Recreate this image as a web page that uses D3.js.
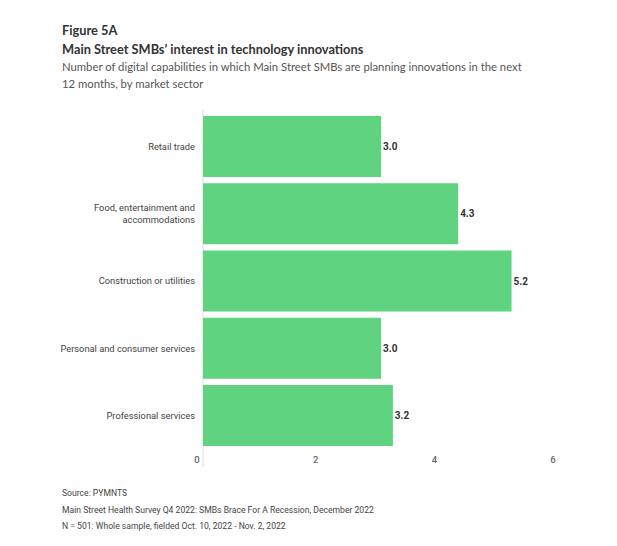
<!DOCTYPE html>
<html lang="en">
<head>
<meta charset="UTF-8">
<title>Figure 5A</title>
<script src="https://d3js.org/d3.v7.min.js"></script>
<style>
  body { margin: 0; background: #fff; }
  .title { font-family: Lato, sans-serif; font-weight: 700; fill: #333; }
  .sub { font-family: Lato, sans-serif; fill: #555; }
  .lbl { font-family: Roboto, sans-serif; }
</style>
</head>
<body>
<div class="chart"></div>
<script>
const sectors = ["Retail trade", "Food, entertainment and accommodations", "Construction or utilities",
                 "Personal and consumer services", "Professional services"];
const sectorLines = [["Retail trade"], ["Food, entertainment and", "accommodations"], ["Construction or utilities"],
                     ["Personal and consumer services"], ["Professional services"]];
const values = [3.0, 4.3, 5.2, 3.0, 3.2];
const xTicks = [0, 2, 4, 6];

const W = 617, H = 546;
const svg = d3.select(".chart").append("svg")
  .attr("width", W).attr("height", H);

// header
svg.append("text").attr("class", "title").attr("x", 62).attr("y", 35)
  .attr("font-size", "12.8px").text("Figure 5A");
svg.append("text").attr("class", "title").attr("x", 62).attr("y", 54)
  .attr("font-size", "12.8px").text("Main Street SMBs\u2019 interest in technology innovations");
svg.append("text").attr("class", "sub").attr("x", 62).attr("y", 71)
  .attr("font-size", "11.3px").text("Number of digital capabilities in which Main Street SMBs are planning innovations in the next");
svg.append("text").attr("class", "sub").attr("x", 62).attr("y", 88)
  .attr("font-size", "11.3px").text("12 months, by market sector");

const x = d3.scaleLinear().domain([0, 6]).range([203, 559]);
const y = d3.scaleBand().domain(sectors).range([116, 446]).paddingInner(0.093).paddingOuter(0);

// axis line
svg.append("line").attr("x1", x(0)).attr("x2", x(0)).attr("y1", 110).attr("y2", 467)
  .attr("stroke", "#ddd").attr("stroke-width", 1);

// x tick labels
const xAxis = d3.axisBottom(x).tickValues(xTicks).tickFormat(d3.format("d")).tickSize(0).tickPadding(0);
const gx = svg.append("g").attr("transform", "translate(-6.5, 456)").call(xAxis);
gx.select(".domain").remove();
gx.selectAll("text").attr("class", "lbl").attr("font-size", "9.5px").attr("font-weight", 500).attr("fill", "#666");

// bars
svg.selectAll("rect.bar").data(values).join("rect")
  .attr("class", "bar")
  .attr("x", x(0))
  .attr("y", (d, i) => y(sectors[i]))
  .attr("width", d => x(d) - x(0))
  .attr("height", y.bandwidth())
  .attr("fill", "#5fd37f");

// value labels
svg.selectAll("text.val").data(values).join("text")
  .attr("class", "val lbl")
  .attr("x", d => x(d) + 2)
  .attr("y", (d, i) => y(sectors[i]) + y.bandwidth() / 2)
  .attr("dy", "0.35em")
  .attr("font-size", "10px").attr("font-weight", 700).attr("fill", "#333")
  .text(d => d.toFixed(1));

// category labels
sectorLines.forEach((lines, i) => {
  const cy = y(sectors[i]) + y.bandwidth() / 2;
  const t = svg.append("text").attr("class", "lbl")
    .attr("text-anchor", "end").attr("font-size", "9.3px").attr("fill", "#444");
  lines.forEach((ln, j) => {
    t.append("tspan").attr("x", 195)
      .attr("y", cy + (j - (lines.length - 1) / 2) * 11.5)
      .attr("dy", "0.35em").text(ln);
  });
});

// footer
const notes = ["Source: PYMNTS",
  "Main Street Health Survey Q4 2022: SMBs Brace For A Recession, December 2022",
  "N = 501: Whole sample, fielded Oct. 10, 2022 - Nov. 2, 2022"];
svg.selectAll("text.note").data(notes).join("text")
  .attr("class", "note lbl")
  .attr("x", 62).attr("y", (d, i) => 496 + i * 16.5)
  .attr("font-size", "8.6px").attr("fill", "#444")
  .text(d => d);
</script>
</body>
</html>
